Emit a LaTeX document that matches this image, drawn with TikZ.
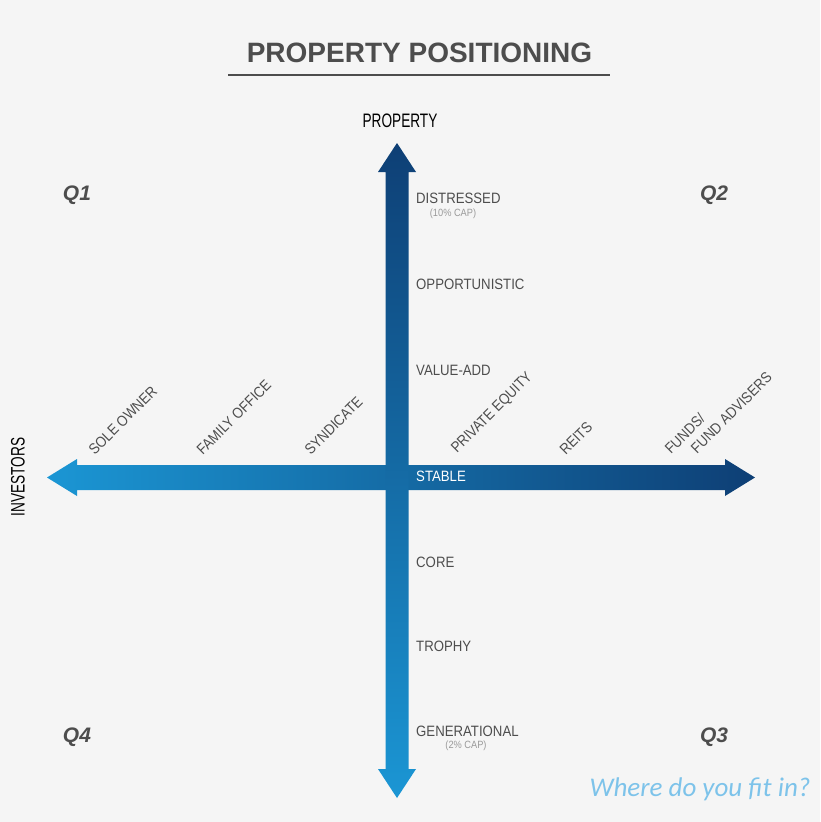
\documentclass[tikz,border=0pt]{standalone}
\usepackage{fontspec}
\setmainfont{Liberation Sans}
\newfontfamily\dinfont[FakeStretch=0.88]{Liberation Sans}
\newfontfamily\condfont[FakeStretch=0.7]{Liberation Sans}
\newfontfamily\askfont{Carlito}

\definecolor{navy}{HTML}{0E3F75}
\definecolor{sky}{HTML}{1B96D4}
\definecolor{labelgray}{HTML}{4D4D4D}
\definecolor{capgray}{HTML}{9A9A9A}
\definecolor{bggray}{HTML}{F5F5F5}
\definecolor{askblue}{HTML}{7DC3EA}

\tikzset{
  lbl/.style = {anchor=west, inner sep=0pt, text=labelgray,
    font=\dinfont\fontsize{15}{18}\selectfont},
  capnote/.style = {inner sep=0pt, text=capgray,
    font=\dinfont\fontsize{10.5}{12}\selectfont},
  diag/.style = {lbl, rotate=45, anchor=south west, align=left},
  quad/.style = {inner sep=0pt, text=labelgray,
    font=\fontsize{21}{24}\selectfont\bfseries\itshape},
  axislbl/.style = {inner sep=0pt, text=black,
    font=\condfont\fontsize{19.5}{22}\selectfont}
}

\begin{document}
\begin{tikzpicture}[x=1pt, y=-1pt]
  \fill[bggray] (0,0) rectangle (820,822);

  % title
  \node[inner sep=0pt, anchor=base, text=labelgray,
    font=\fontsize{28}{32}\selectfont\bfseries] (title) at (419.5,62) {PROPERTY POSITIONING};
  \draw[labelgray, line width=1.5pt] (228,75) -- (610,75);

  % investors axis
  \shade[left color=sky, right color=navy]
    (77,465) -- (77,459) -- (47,477.5) -- (77,496) -- (77,490)
    -- (725,490) -- (725,496) -- (755,477.5) -- (725,459) -- (725,465) -- cycle;
  % property axis
  \shade[top color=navy, bottom color=sky]
    (385.5,172) -- (378,172) -- (397,143) -- (416,172) -- (408.5,172)
    -- (408.5,769) -- (416,769) -- (397,798) -- (378,769) -- (385.5,769) -- cycle;

  \node[axislbl] (property) at (400,121) {PROPERTY};
  \node[axislbl, rotate=90] (investors) at (18,477) {INVESTORS};

  % quadrants
  \node[quad] (q1) at (77,195) {Q1};
  \node[quad] (q2) at (714,195) {Q2};
  \node[quad] (q3) at (714,737) {Q3};
  \node[quad] (q4) at (77,737) {Q4};

  % property stages
  \node[lbl] (distressed) at (416,198) {DISTRESSED};
  \node[capnote] (capten) at (453,214) {(10\% CAP)};
  \node[lbl] (opportunistic) at (416,284) {OPPORTUNISTIC};
  \node[lbl] (valueadd) at (416,370) {VALUE-ADD};
  \node[lbl, text=white] (stable) at (416,476) {STABLE};
  \node[lbl] (core) at (416,562) {CORE};
  \node[lbl] (trophy) at (416,646) {TROPHY};
  \node[lbl] (generational) at (416,731) {GENERATIONAL};
  \node[capnote] (captwo) at (466,746) {(2\% CAP)};

  % investor types
  \node[diag] (sole) at (95,456) {SOLE OWNER};
  \node[diag] (family) at (203,456) {FAMILY OFFICE};
  \node[diag] (syndicate) at (311,456) {SYNDICATE};
  \node[diag] (privateeq) at (459,456) {PRIVATE EQUITY};
  \node[diag] (reits) at (566,456) {REITS};
  \node[diag] (funds) at (684,468) {FUNDS/\\\hspace*{1.25em}FUND ADVISERS};

  \node[inner sep=0pt, text=askblue, font=\askfont\itshape\fontsize{27}{30}\selectfont]
    (ask) at (700,789) {Where do you fit in?};
\end{tikzpicture}
\end{document}
